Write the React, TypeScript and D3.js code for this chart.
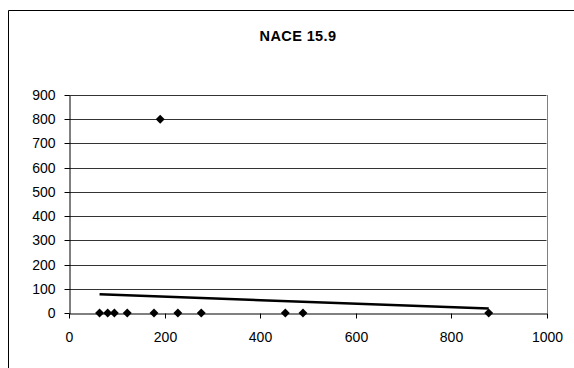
import React, { useEffect, useRef } from 'react';
import * as d3 from 'd3';

const xValues = [64, 81, 95, 122, 178, 191, 228, 277, 453, 490, 879];
const yValues = [0, 0, 0, 0, 0, 800, 0, 0, 0, 0, 0];
const trendX = [64, 879];
const trendY = [77, 19];
const xTicks = [0, 200, 400, 600, 800, 1000];
const yTicks = [0, 100, 200, 300, 400, 500, 600, 700, 800, 900];
const title = 'NACE 15.9';

const App: React.FC = () => {
  const svgRef = useRef<SVGSVGElement>(null);

  useEffect(() => {
    if (!svgRef.current) return;
    const svg = d3.select(svgRef.current);
    svg.selectAll('*').remove();

    const font = '"Liberation Sans", Arial, sans-serif';
    const left = 69, right = 546.5, top = 95, bottom = 313;

    const x = d3.scaleLinear().domain([0, 1000]).range([left, right]);
    const y = d3.scaleLinear().domain([0, 900]).range([bottom, top]);

    // outer chart border (only top and left visible)
    svg.append('path')
      .attr('d', `M8.5,400 V10.5 H600`)
      .attr('fill', 'none')
      .attr('stroke', '#000')
      .attr('stroke-width', 1);

    svg.append('text')
      .attr('x', 298)
      .attr('y', 41)
      .attr('text-anchor', 'middle')
      .style('font-family', font)
      .style('font-size', '14.5px')
      .style('font-weight', 'bold')
      .style('letter-spacing', '0.4px')
      .text(title);

    // gridlines
    svg.append('g')
      .selectAll('line')
      .data(yTicks.filter(t => t > 0))
      .enter()
      .append('line')
      .attr('x1', left)
      .attr('x2', right)
      .attr('y1', d => Math.round(y(d)) + 0.5)
      .attr('y2', d => Math.round(y(d)) + 0.5)
      .attr('stroke', '#333')
      .attr('stroke-width', 1);

    // right plot border
    svg.append('line')
      .attr('x1', Math.round(right) + 0.5)
      .attr('x2', Math.round(right) + 0.5)
      .attr('y1', top)
      .attr('y2', bottom)
      .attr('stroke', '#808080');

    // y axis
    const yAxis = svg.append('g')
      .attr('transform', `translate(${left + 0.5},0.5)`)
      .call(d3.axisLeft(y).tickValues(yTicks).tickSize(5).tickSizeOuter(0).tickFormat(d3.format('d')));
    yAxis.select('.domain').attr('stroke', '#000');
    yAxis.selectAll('.tick line').attr('stroke', '#000');
    yAxis.selectAll('.tick text')
      .attr('x', -14)
      .style('font-family', font)
      .style('font-size', '14px')
      .attr('fill', '#000');
    yAxis.selectAll('.tick').attr('transform', (d: any) => `translate(0,${Math.round(y(d))})`);

    // x axis
    const xAxis = svg.append('g')
      .attr('transform', `translate(0.5,${bottom + 0.5})`)
      .call(d3.axisBottom(x).tickValues(xTicks).tickSize(5).tickSizeOuter(0).tickFormat(d3.format('d')));
    xAxis.select('.domain').attr('stroke', '#000');
    xAxis.selectAll('.tick line').attr('stroke', '#000');
    xAxis.selectAll('.tick text')
      .attr('y', 18.5)
      .style('font-family', font)
      .style('font-size', '14px')
      .attr('fill', '#000');
    xAxis.selectAll('.tick').attr('transform', (d: any) => `translate(${Math.round(x(d))},0)`);

    // trend line
    const trend = trendX.map((v, i) => [v, trendY[i]] as [number, number]);
    svg.append('path')
      .datum(trend)
      .attr('fill', 'none')
      .attr('stroke', '#000')
      .attr('stroke-width', 2.5)
      .attr('d', d3.line<[number, number]>().x(d => x(d[0])).y(d => y(d[1])));

    // markers
    const diamond = d3.symbol().type(d3.symbolSquare).size(40);
    svg.append('g')
      .selectAll('path')
      .data(xValues.map((v, i) => [v, yValues[i]]))
      .enter()
      .append('path')
      .attr('d', diamond)
      .attr('transform', d => `translate(${x(d[0])},${y(d[1])}) rotate(45)`)
      .attr('fill', '#000');
  }, []);

  return (
    <svg ref={svgRef} width={574} height={368}
      style={{ position: 'absolute', left: 0, top: 0, background: '#fff' }} />
  );
};

export default App;
